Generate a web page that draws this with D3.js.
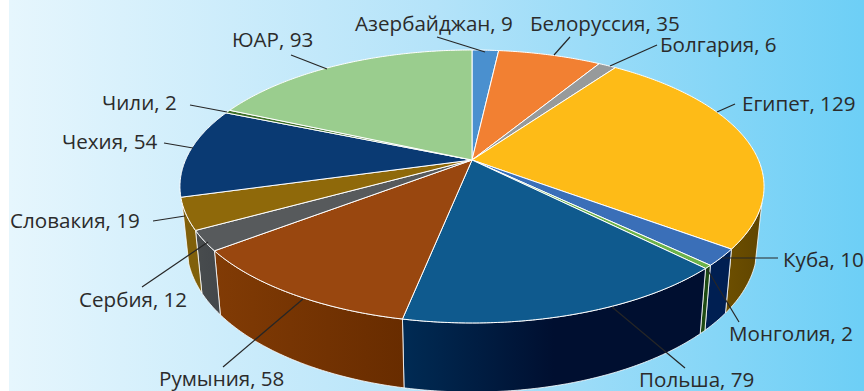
<!DOCTYPE html>
<html>
<head>
<meta charset="utf-8">
<title>Pie</title>
<script src="https://d3js.org/d3.v7.min.js"></script>
<style>
  html, body {margin: 0; padding: 0; background: #fff;}
  svg {display: block;}
  text {font-family: "Open Sans", sans-serif; font-size: 20.6px; fill: #2b2b2b;}
</style>
</head>
<body>
<script>
// data, clockwise from 12 o'clock
var countries = ["Азербайджан", "Белоруссия", "Болгария", "Египет", "Куба", "Монголия", "Польша", "Румыния", "Сербия", "Словакия", "Чехия", "Чили", "ЮАР"];
var counts = [9, 35, 6, 129, 10, 2, 79, 58, 12, 19, 54, 2, 93];

var topColors = ["#4a90cf", "#f28032", "#979a9b", "#febb17", "#3a6fb8", "#6cb24a", "#0f5a8e", "#99470f", "#575a5c", "#8f690a", "#0a3a73", "#3f7028", "#9acd8e"];
var wallLeft = ["#2a5a8a", "#9a4f1a", "#5e6060", "#6d4f00", "#001f52", "#1d4a12", "#002b54", "#813b05", "#484c4e", "#80600a", "#05284f", "#264a18", "#5f8a55"];
var wallRight = ["#2a5a8a", "#9a4f1a", "#5e6060", "#604500", "#001f52", "#1d4a12", "#000f30", "#682c00", "#43474a", "#80600a", "#05284f", "#264a18", "#5f8a55"];

// label position and leader line for each country: text x, baseline y, then line x1 y1 x2 y2
var labelLayout = [
  [355, 31, 437, 37, 485, 52],
  [530, 31, 570, 37, 554, 55],
  [660, 52, 657, 45, 610, 66],
  [742, 111, 735, 104, 717, 112],
  [783, 267, 778, 258, 722, 258],
  [729, 341, 739, 322, 707, 269],
  [639, 387, 685, 368, 612, 307],
  [159, 386, 223, 367, 303, 299],
  [79, 307, 142, 287, 208, 242],
  [10, 228, 153, 221, 185, 216],
  [62, 149, 164, 143, 193, 148],
  [102, 110, 190, 105, 227, 112],
  [232, 47, 291, 55, 327, 69]
];

var width = 864, height = 391;

var svg = d3.select("body").append("svg")
  .attr("width", width)
  .attr("height", height);

var defs = svg.append("defs");

// background
var bg = defs.append("linearGradient").attr("id", "bg");
bg.append("stop").attr("offset", "0%").attr("stop-color", "#e6f6fd");
bg.append("stop").attr("offset", "50%").attr("stop-color", "#b4e3f9");
bg.append("stop").attr("offset", "100%").attr("stop-color", "#6dcff6");

svg.append("rect")
  .attr("x", 9).attr("y", 0)
  .attr("width", width - 9).attr("height", height)
  .attr("fill", "url(#bg)");

// tilted pie: a circle seen in perspective, the apex sits above the ellipse centre
var cx = 472, cy = 160, R = 286.5, k = -0.194, b = 100.3;
var wallScale = 0.977;

function topPoint(a) {
  var u = Math.sin(a), v = -Math.cos(a), w = 1 + k * v;
  return [cx + R * u / w, (cy + b * v) / w];
}
function basePoint(a) {
  var p = topPoint(a);
  return [cx + (p[0] - cx) * wallScale, p[1] + 64 + (p[1] - 250) * 0.07];
}
function arcPoints(f, a0, a1) {
  var n = Math.max(2, Math.ceil(Math.abs(a1 - a0) / 0.01));
  return d3.range(n + 1).map(function(i) { return f(a0 + (a1 - a0) * i / n); });
}

var line = d3.line();
var pie = d3.pie().sort(null).value(function(d) { return d; });
var slices = pie(counts);

// walls only show on the near side of the pie
var wallFrom = 108 * Math.PI / 180, wallTo = 252 * Math.PI / 180;

slices.forEach(function(d, i) {
  var a0 = Math.max(d.startAngle, wallFrom), a1 = Math.min(d.endAngle, wallTo);
  if (a1 <= a0) return;
  var pts = arcPoints(topPoint, a0, a1).concat(arcPoints(basePoint, a1, a0));
  var xs = d3.extent(pts, function(p) { return p[0]; });
  var grad = defs.append("linearGradient")
    .attr("id", "wall" + i)
    .attr("gradientUnits", "userSpaceOnUse")
    .attr("x1", xs[1]).attr("x2", xs[0]).attr("y1", 0).attr("y2", 0);
  grad.append("stop").attr("offset", "0%").attr("stop-color", wallRight[i]);
  grad.append("stop").attr("offset", "100%").attr("stop-color", wallLeft[i]);
  // Romania is lit from the left, Poland from the right
  if (i == 6 || i == 7) {
    grad.attr("x1", xs[0]).attr("x2", xs[1]);
    grad.selectAll("stop").remove();
    grad.append("stop").attr("offset", "0%").attr("stop-color", wallLeft[i]);
    grad.append("stop").attr("offset", i == 6 ? "50%" : "100%").attr("stop-color", wallRight[i]);
  }
  svg.append("path")
    .attr("d", line(pts) + "Z")
    .attr("fill", "url(#wall" + i + ")")
    .attr("stroke", "#fff")
    .attr("stroke-width", 0.8)
    .attr("stroke-linejoin", "round");
});

// top surface
svg.selectAll("path.slice")
  .data(slices)
  .enter()
  .append("path")
  .attr("class", "slice")
  .attr("d", function(d) {
    return line([[cx, cy]].concat(arcPoints(topPoint, d.startAngle, d.endAngle))) + "Z";
  })
  .attr("fill", function(d, i) { return topColors[i]; })
  .attr("stroke", "#fff")
  .attr("stroke-width", 1)
  .attr("stroke-linejoin", "round");

// leader lines and labels
svg.selectAll("line.leader")
  .data(labelLayout)
  .enter()
  .append("line")
  .attr("class", "leader")
  .attr("x1", function(d) { return d[2]; })
  .attr("y1", function(d) { return d[3]; })
  .attr("x2", function(d) { return d[4]; })
  .attr("y2", function(d) { return d[5]; })
  .attr("stroke", "#262626")
  .attr("stroke-width", 1.2);

svg.selectAll("text.label")
  .data(labelLayout)
  .enter()
  .append("text")
  .attr("class", "label")
  .attr("x", function(d) { return d[0]; })
  .attr("y", function(d) { return d[1]; })
  .text(function(d, i) { return countries[i] + ", " + counts[i]; });
</script>
</body>
</html>
